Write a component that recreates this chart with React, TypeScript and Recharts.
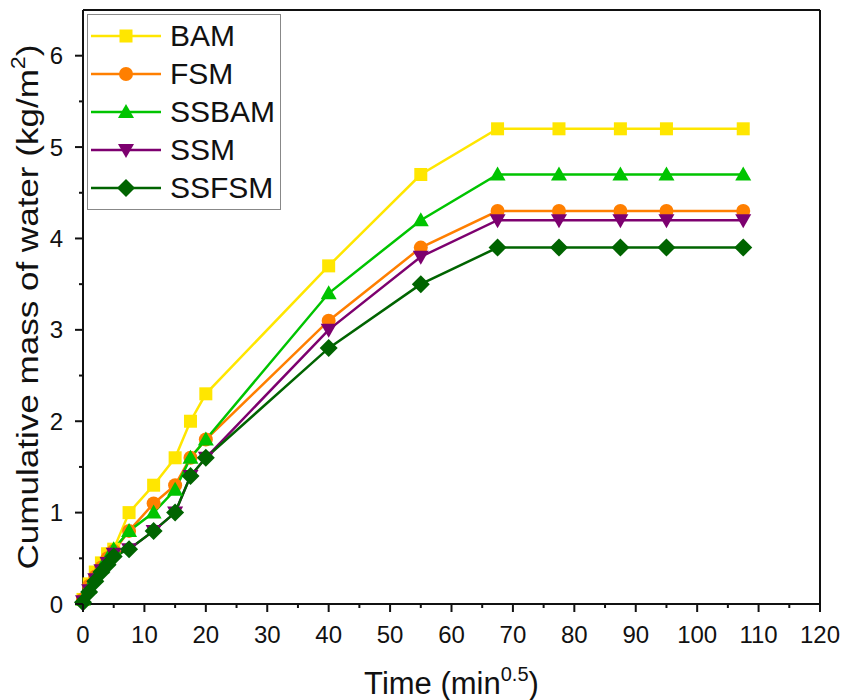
import { LineChart, Line, XAxis, YAxis, Legend, Label, ReferenceLine } from 'recharts';

// time in min^0.5
const times = [0, 1, 2, 3, 4, 5, 7.5, 11.5, 15, 17.5, 20, 40, 55, 67.5, 77.5, 87.5, 95, 107.5];

// cumulative mass of water, kg/m2
const bam = [0.05, 0.22, 0.35, 0.45, 0.55, 0.6, 1.0, 1.3, 1.6, 2.0, 2.3, 3.7, 4.7, 5.2, 5.2, 5.2, 5.2, 5.2];
const fsm = [0.05, 0.2, 0.3, 0.4, 0.5, 0.58, 0.8, 1.1, 1.3, 1.6, 1.8, 3.1, 3.9, 4.3, 4.3, 4.3, 4.3, 4.3];
const ssbam = [0.05, 0.18, 0.3, 0.4, 0.5, 0.6, 0.8, 1.0, 1.25, 1.6, 1.8, 3.4, 4.2, 4.7, 4.7, 4.7, 4.7, 4.7];
const ssm = [0.03, 0.15, 0.27, 0.37, 0.45, 0.55, 0.6, 0.8, 1.0, 1.4, 1.6, 3.0, 3.8, 4.2, 4.2, 4.2, 4.2, 4.2];
const ssfsm = [0.02, 0.13, 0.25, 0.35, 0.43, 0.52, 0.6, 0.8, 1.0, 1.4, 1.6, 2.8, 3.5, 3.9, 3.9, 3.9, 3.9, 3.9];

const xTicks = [0, 5, 10, 15, 20, 25, 30, 35, 40, 45, 50, 55, 60, 65, 70, 75, 80, 85, 90, 95, 100, 105, 110, 115, 120];
const yTicks = [0, 0.5, 1, 1.5, 2, 2.5, 3, 3.5, 4, 4.5, 5, 5.5, 6];

const FONT = '"Liberation Sans", Arial, sans-serif';
const INK = '#111';
const TICK = 8;
const GAP = 6;

const series = [
  { key: 'BAM', values: bam, color: '#FFE600', shape: 'square' },
  { key: 'FSM', values: fsm, color: '#FF7F00', shape: 'circle' },
  { key: 'SSBAM', values: ssbam, color: '#00C400', shape: 'up' },
  { key: 'SSM', values: ssm, color: '#7D006F', shape: 'down' },
  { key: 'SSFSM', values: ssfsm, color: '#006400', shape: 'diamond' },
];

const data = times.map((t, i) => {
  const row: any = { t };
  series.forEach(s => { row[s.key] = s.values[i]; });
  return row;
});

function Marker({ cx, cy, shape, color }: any) {
  if (cx == null || cy == null) return null;
  if (shape === 'square') return <rect x={cx - 6.5} y={cy - 6.5} width={13} height={13} fill={color} />;
  if (shape === 'circle') return <circle cx={cx} cy={cy} r={7} fill={color} />;
  if (shape === 'up') return <path d={`M${cx},${cy - 8} L${cx + 8},${cy + 6} L${cx - 8},${cy + 6} Z`} fill={color} />;
  if (shape === 'down') return <path d={`M${cx},${cy + 8} L${cx + 8},${cy - 6} L${cx - 8},${cy - 6} Z`} fill={color} />;
  return <path d={`M${cx},${cy - 9} L${cx + 9},${cy} L${cx},${cy + 9} L${cx - 9},${cy} Z`} fill={color} />;
}

function XTick({ x, y, payload }: any) {
  const v = payload.value;
  const major = v % 10 === 0;
  const top = y - GAP - TICK;
  return <g>
    <line x1={x} x2={x} y1={top} y2={top + (major ? TICK : TICK / 2)} stroke={INK} strokeWidth={2} />
    {major && <text x={x} y={y + 8} dy="0.71em" textAnchor="middle" fontSize={24} fontFamily={FONT} fill={INK}>{v}</text>}
  </g>;
}

function YTick({ x, y, payload }: any) {
  const v = payload.value;
  const major = Number.isInteger(v);
  const axisX = x + GAP + TICK;
  return <g>
    <line x1={axisX - (major ? TICK : TICK / 2)} x2={axisX} y1={y} y2={y} stroke={INK} strokeWidth={2} />
    {major && <text x={x - 6} y={y} dy="0.36em" textAnchor="end" fontSize={24} fontFamily={FONT} fill={INK}>{v}</text>}
  </g>;
}

function LegendBox() {
  return <div style={{ width: 192, border: '1px solid #888', background: '#fff', padding: '2px 0', fontFamily: FONT }}>
    {series.map(s => <div key={s.key} style={{ display: 'flex', alignItems: 'center', height: 38 }}>
      <svg width={82} height={38}>
        <line x1={3} x2={73} y1={19} y2={19} stroke={s.color} strokeWidth={2.5} />
        <Marker cx={38} cy={19} shape={s.shape} color={s.color} />
      </svg>
      <span style={{ fontSize: 30, color: INK, lineHeight: '38px' }}>{s.key}</span>
    </div>)}
  </div>;
}

export default function App() {
  return <div style={{ position: 'absolute', left: 0, top: 0, background: '#fff' }}>
    <LineChart width={841} height={700} data={data} margin={{ top: 10, right: 21, left: 0, bottom: 0 }}>
      <XAxis dataKey="t" type="number" domain={[0, 120]} ticks={xTicks} interval={0} height={96}
        tickSize={TICK} tickMargin={GAP} tickLine={false} tick={<XTick />}
        axisLine={{ stroke: INK, strokeWidth: 2 }}>
        <Label content={({ viewBox }: any) => <text x={viewBox.x + viewBox.width / 2} y={viewBox.y + viewBox.height - 6}
          textAnchor="middle" fontSize={31} fontFamily={FONT} fill={INK}>
          Time (min<tspan dy={-13} fontSize={20}>0.5</tspan><tspan dy={13}>)</tspan>
        </text>} />
      </XAxis>
      <YAxis type="number" domain={[0, 6.5]} ticks={yTicks} interval={0} width={83}
        tickSize={TICK} tickMargin={GAP} tickLine={false} tick={<YTick />}
        axisLine={{ stroke: INK, strokeWidth: 2 }}>
        <Label content={({ viewBox }: any) => <text transform={`translate(38, ${viewBox.y + viewBox.height / 2}) rotate(-90)`}
          textAnchor="middle" fontSize={30} fontFamily={FONT} fill={INK} textLength={525} lengthAdjust="spacingAndGlyphs">
          Cumulative mass of water (kg/m<tspan dy={-13} fontSize={20}>2</tspan><tspan dy={13}>)</tspan>
        </text>} />
      </YAxis>
      <ReferenceLine y={6.5} stroke={INK} strokeWidth={2} />
      <ReferenceLine x={120} stroke={INK} strokeWidth={2} />
      <Legend layout="vertical" align="center" verticalAlign="middle" content={() => <LegendBox />}
        wrapperStyle={{ left: 87, top: 14, width: 194, height: 'auto' }} />
      {series.map(s => <Line key={s.key} dataKey={s.key} stroke={s.color} strokeWidth={2.5} isAnimationActive={false}
        dot={(p: any) => <Marker key={p.index} cx={p.cx} cy={p.cy} shape={s.shape} color={s.color} />}
        activeDot={false} />)}
    </LineChart>
  </div>;
}
